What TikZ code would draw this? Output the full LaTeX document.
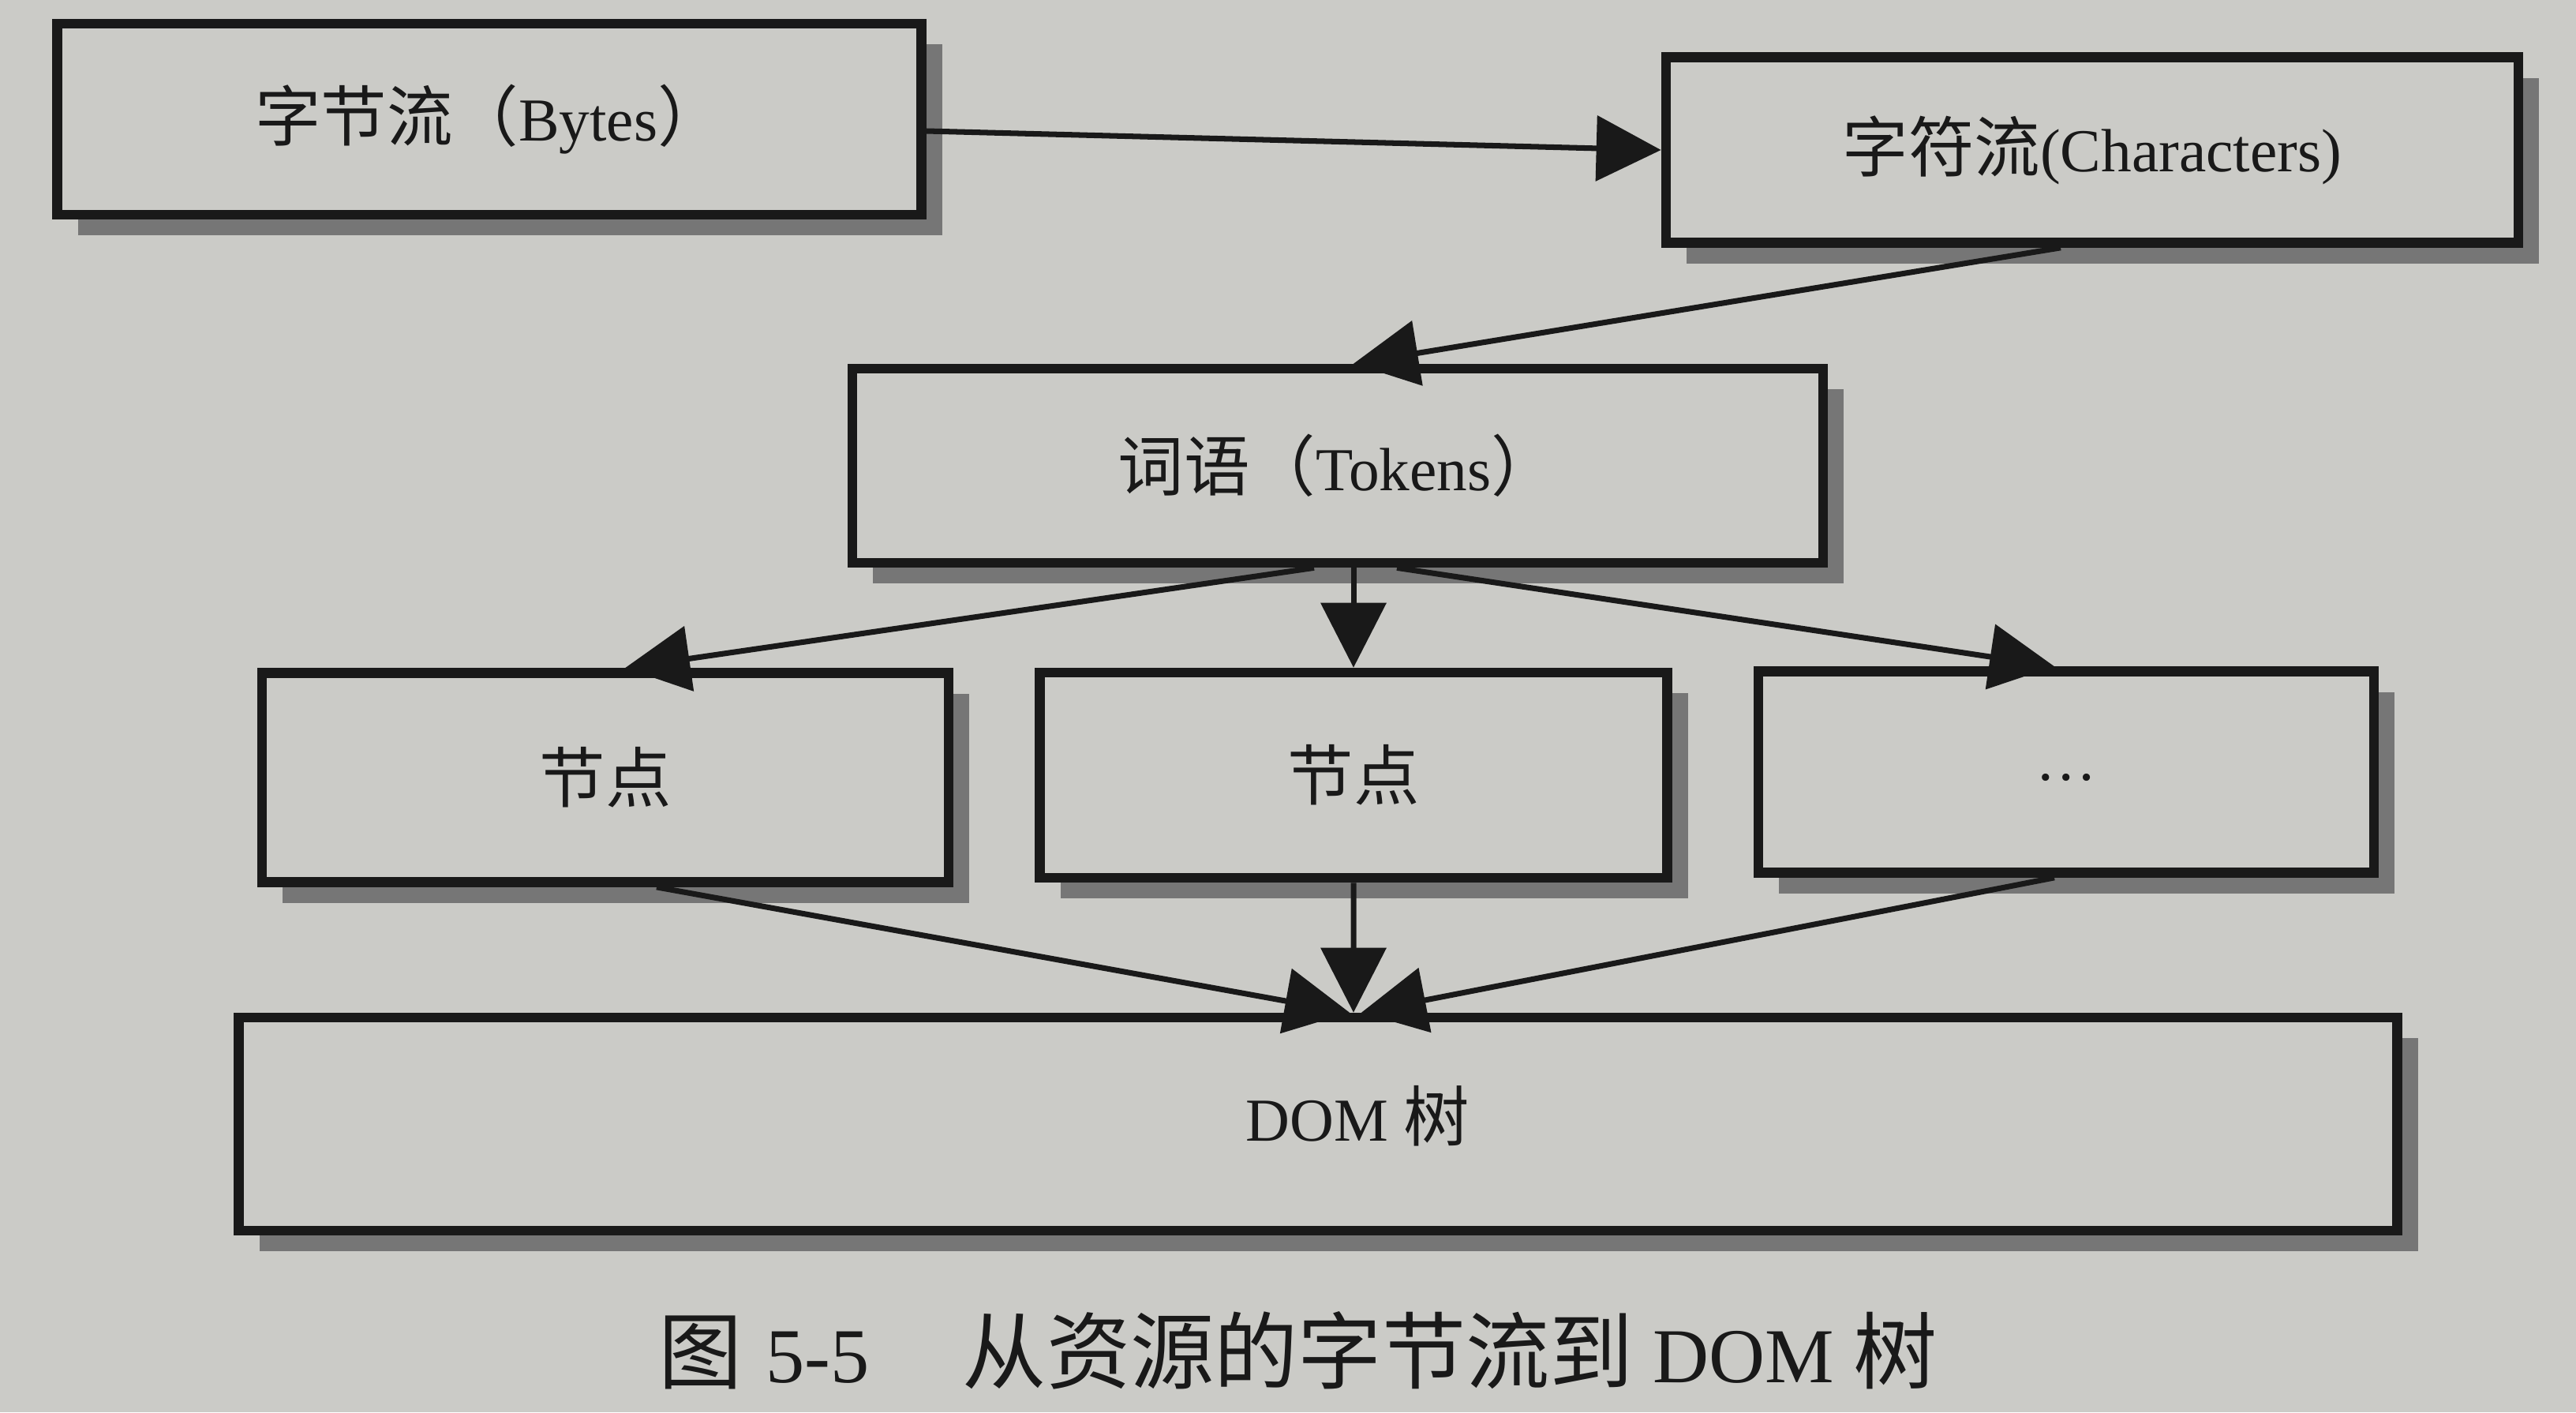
\documentclass[tikz,border=0pt]{standalone}
\usepackage{fontspec}
\setmainfont{Liberation Serif}
\newfontfamily\cjk[Scale=1.08]{Noto Sans CJK SC}
\usetikzlibrary{arrows.meta,calc,shadows}
\definecolor{paper}{RGB}{203,203,199}
\definecolor{ink}{RGB}{25,25,25}
\definecolor{shade}{RGB}{118,118,118}
\begin{document}
\begin{tikzpicture}[
  box/.style={draw=ink, line width=3.6pt, fill=paper, inner sep=0pt, text=ink,
    font=\fontsize{22}{26}\selectfont,
    drop shadow={shadow xshift=0.26cm, shadow yshift=-0.26cm, fill=shade, opacity=1}},
  conn/.style={draw=ink, line width=2pt, -{Triangle[length=0.82cm,width=0.82cm]}},
]
\fill[paper] (0,0) rectangle (32.64,-17.89);
\useasboundingbox (0,0) rectangle (32.64,-17.89);

\node[box, minimum width=10.95cm, minimum height=2.42cm] (bytes) at (6.2,-1.51) {{\cjk 字节流（}Bytes{\cjk ）}};
\node[box, minimum width=10.8cm, minimum height=2.35cm] (chars) at (26.51,-1.9) {{\cjk 字符流}(Characters)};
\node[box, minimum width=12.3cm, minimum height=2.46cm] (tokens) at (16.95,-5.9) {{\cjk 词语（}Tokens{\cjk ）}};
\node[box, minimum width=8.7cm, minimum height=2.65cm] (n1) at (7.67,-9.85) {\cjk 节点};
\node[box, minimum width=7.95cm, minimum height=2.6cm] (n2) at (17.15,-9.82) {\cjk 节点};
\node[box, minimum width=7.8cm, minimum height=2.55cm] (n3) at (26.18,-9.78) {\raisebox{-0.22cm}{…}};
\node[box, minimum width=27.35cm, minimum height=2.7cm,
      label={[font=\fontsize{22}{26}\selectfont, text=ink, xshift=0.5cm, yshift=0.1cm]center:DOM {\cjk 树}}] (dom) at (16.7,-14.24) {};

\node[font=\fontsize{28}{32}\selectfont, text=ink] (cap) at (16.45,-17.11)
  {{\cjk 图}\hspace{0.3em}5-5\hspace{1.2em}{\cjk 从资源的字节流到}\hspace{0.25em}DOM\hspace{0.25em}{\cjk 树}};

\draw[conn] ($(bytes.east)+(0,-0.15)$) -- (chars.west);
\draw[conn] ($(chars.south)+(-0.4,0)$) -- ($(tokens.north)+(0.2,0)$);
\draw[conn] ($(tokens.south)+(-0.3,0)$) -- ($(n1.north)+(0.25,0)$);
\draw[conn] ($(tokens.south)+(0.2,0)$) -- (n2.north);
\draw[conn] ($(tokens.south)+(0.75,0)$) -- ($(n3.north)+(-0.15,0)$);
\draw[conn] ($(n1.south)+(0.65,0)$) -- ($(dom.north)+(0.4,0)$);
\draw[conn] (n2.south) -- ($(dom.north)+(0.45,0)$);
\draw[conn] ($(n3.south)+(-0.15,0)$) -- ($(dom.north)+(0.55,0)$);
\end{tikzpicture}
\end{document}
